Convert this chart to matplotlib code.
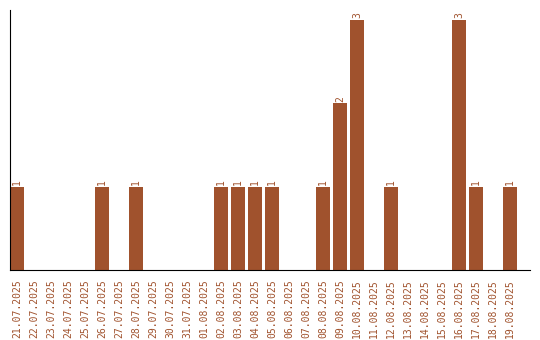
import matplotlib
matplotlib.use("Agg")
import matplotlib.pyplot as plt
import numpy as np

dates = ["21.07.2025", "22.07.2025", "23.07.2025", "24.07.2025", "25.07.2025",
         "26.07.2025", "27.07.2025", "28.07.2025", "29.07.2025", "30.07.2025",
         "31.07.2025", "01.08.2025", "02.08.2025", "03.08.2025", "04.08.2025",
         "05.08.2025", "06.08.2025", "07.08.2025", "08.08.2025", "09.08.2025",
         "10.08.2025", "11.08.2025", "12.08.2025", "13.08.2025", "14.08.2025",
         "15.08.2025", "16.08.2025", "17.08.2025", "18.08.2025", "19.08.2025"]
counts = [1, 0, 0, 0, 0, 1, 0, 1, 0, 0,
          0, 0, 1, 1, 1, 1, 0, 0, 1, 2,
          3, 0, 1, 0, 0, 0, 3, 1, 0, 1]

color = '#a0522d'

fig = plt.figure(figsize=(5.4, 3.4), dpi=100)
ax = fig.add_axes([10 / 540, 70 / 340, 520 / 540, 260 / 340])

x = np.arange(len(dates))
bars = ax.bar(x, counts, width=0.82, color=color)

for xi, c in zip(x, counts):
    if c > 0:
        ax.text(xi, c + 0.02, str(c), rotation=90, ha='center', va='bottom',
                color=color, family='DejaVu Sans Mono', fontsize=7)

ax.set_xlim(-0.41, 30.18)
ax.set_ylim(0, 3.12)
ax.set_xticks(x)
ax.set_xticklabels(dates, rotation=90, color=color, family='DejaVu Sans Mono', fontsize=7)
ax.tick_params(axis='x', length=0, pad=7)
ax.set_yticks([])
ax.spines['top'].set_visible(False)
ax.spines['right'].set_visible(False)

fig.savefig('out.png', dpi=100)
